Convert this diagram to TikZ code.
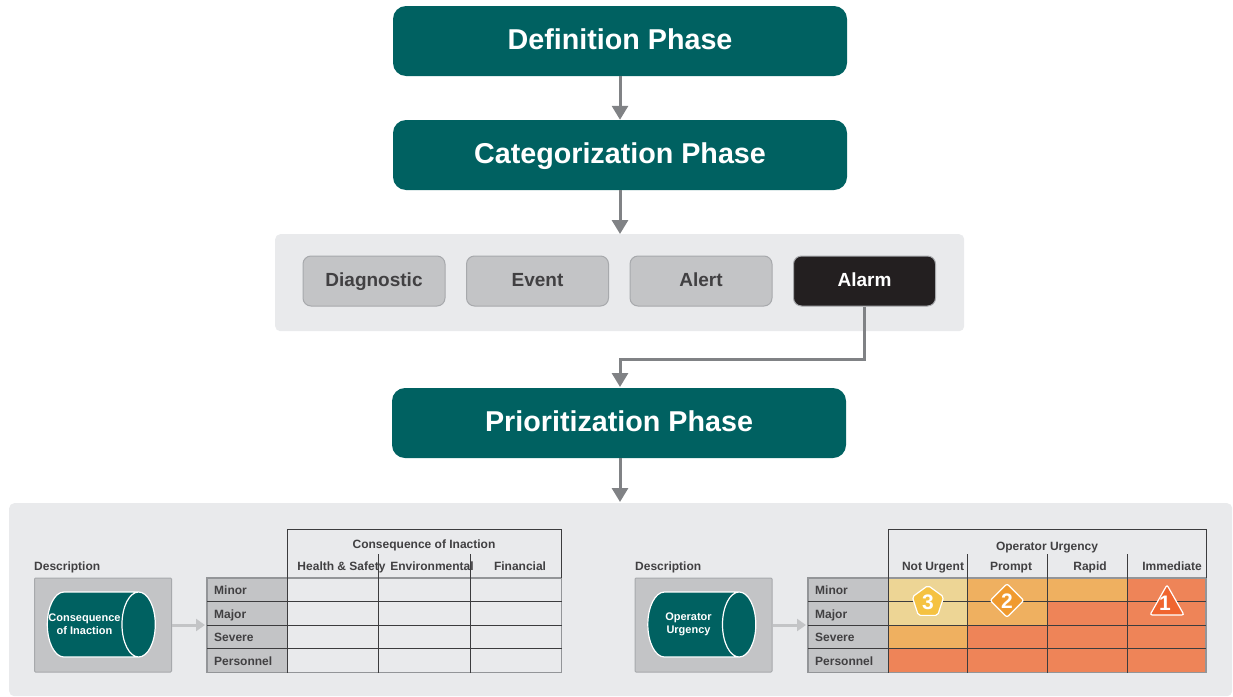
\documentclass[tikz,border=0pt]{standalone}
\usepackage{fontspec}
\setmainfont{Liberation Sans}
\usetikzlibrary{positioning, arrows.meta, shapes.geometric}
\definecolor{PhaseColor}{HTML}{006161}
\definecolor{ChipColor}{HTML}{C3C4C6}
\definecolor{ChipEdge}{HTML}{A7A9AC}
\definecolor{AlarmColor}{HTML}{231F20}
\definecolor{PanelColor}{HTML}{E9EAEC}
\definecolor{LabelColor}{HTML}{414042}
\definecolor{ArrowColor}{HTML}{808285}
\definecolor{RuleColor}{HTML}{3C3C3E}
\definecolor{EdgeColor}{HTML}{939598}
\definecolor{HighColor}{HTML}{EE8458}
\definecolor{MidColor}{HTML}{EFB060}
\definecolor{LowColor}{HTML}{EDD595}
\definecolor{ThreeColor}{HTML}{F5C242}
\definecolor{TwoColor}{HTML}{F09A2E}
\definecolor{OneColor}{HTML}{F0652F}
\tikzset{
  phase/.style={rectangle, rounded corners=13pt, fill=PhaseColor, text=white, minimum width=454pt, minimum height=70pt, text height=20pt, text depth=3.5pt, font=\fontsize{28.7}{32}\selectfont\bfseries},
  chip/.style={rectangle, rounded corners=8pt, fill=ChipColor, draw=ChipEdge, line width=1pt, text=LabelColor, minimum width=142pt, minimum height=50pt, text height=14pt, text depth=4pt, font=\fontsize{19}{22}\selectfont\bfseries},
  panel/.style={rectangle, rounded corners=5pt, fill=PanelColor, anchor=north west},
  flow/.style={-{Triangle[length=14pt,width=16pt]}, line width=3pt, ArrowColor},
  small flow/.style={-{Triangle[length=9pt,width=12pt]}, line width=3pt, ChipColor},
  head/.style={inner sep=0pt, text=LabelColor, text height=8.5pt, text depth=0.5pt, font=\fontsize{12}{14}\selectfont\bfseries},
  caption/.style={head, anchor=west},
  desc box/.style={rectangle, rounded corners=1pt, fill=ChipColor, draw=ChipEdge, line width=1pt, minimum width=137pt, minimum height=94pt},
  drum/.style={cylinder, shape aspect=5, draw=white, fill=PhaseColor, line width=1.2pt, minimum width=65pt, minimum height=108pt},
  drum text/.style={align=center, text=white, inner sep=0pt, font=\fontsize{11}{13}\selectfont\bfseries},
  grid rule/.style={line width=1pt, RuleColor},
  edge rule/.style={line width=1.6pt, EdgeColor},
  badge/.style={draw=white, line width=1.2pt, rounded corners=2pt, inner sep=0pt},
  badge text/.style={inner sep=0pt, text=white, font=\fontsize{21}{24}\selectfont\bfseries}
}
\begin{document}
\begin{tikzpicture}[x=1pt,y=-1pt]
    \useasboundingbox (0,0) rectangle (1233,696);

    % Category panel
    \node[panel, minimum width=689pt, minimum height=97pt] (catpanel) at (275,234) {};

    % Phases
    \node[phase] (definition) at (620,41) {Definition Phase};
    \node[phase] (categorization) at (620,155) {Categorization Phase};
    \node[phase] (prioritization) at (619,423) {Prioritization Phase};

    % Category chips
    \node[chip] (diagnostic) at (374,281) {Diagnostic};
    \node[chip] (event) at (537.5,281) {Event};
    \node[chip] (alert) at (701,281) {Alert};
    \node[chip, fill=AlarmColor, text=white] (alarm) at (864.5,281) {Alarm};

    % Bottom panel
    \node[panel, minimum width=1223pt, minimum height=193pt] (bottompanel) at (9,503) {};

    % Arrows
    \coordinate (catin) at (620,234);
    \coordinate (prioin) at (620,387);
    \coordinate (prioout) at (620,458);
    \coordinate (bottomin) at (620,502);
    \draw[flow] (definition.south -| catin) -- (categorization.north -| catin);
    \draw[flow] (categorization.south -| catin) -- (catin);
    \draw[flow] (alarm.south) |- (620,359) -- (prioin);
    \draw[flow] (prioout) -- (bottomin);

    % Left description
    \node[caption] (descleft) at (34,566) {Description};
    \node[desc box] (boxleft) at (103,625) {};
    \node[drum] (drumleft) at (89,624.5) {};
    \node[drum text] (drumlefttext) at (84.5,624) {Consequence\\of Inaction};
    \coordinate (tableleft) at (205,625);
    \draw[small flow] (boxleft.east) -- (tableleft);

    % Right description
    \node[caption] (descright) at (635,566) {Description};
    \node[desc box] (boxright) at (703.5,625) {};
    \node[drum] (drumright) at (689.5,624.5) {};
    \node[drum text] (drumrighttext) at (688.5,624) {Operator\\Urgency};
    \coordinate (tableright) at (806,625);
    \draw[small flow] (boxright.east) -- (tableright);

    % Row label columns
    \fill[ChipColor] (207,578) rectangle (287,672.5);
    \fill[ChipColor] (808,578) rectangle (888,672.5);

    % Urgency cells
    \fill[HighColor] (888,578) rectangle (1206,672.5);
    \fill[MidColor] (888,578) rectangle (1047,625);
    \fill[MidColor] (888,625) rectangle (967.5,648.5);
    \fill[MidColor] (1047,578) rectangle (1127,601.5);
    \fill[LowColor] (888,578) rectangle (967.5,625);

    % Row labels and rules
    \foreach \row/\y in {Minor/590,Major/614,Severe/637,Personnel/661} {
        \node[caption] (left\row) at (214,\y) {\row};
        \node[caption] (right\row) at (815,\y) {\row};
    }
    \draw[edge rule] (207,578) rectangle (561.5,672.5);
    \draw[edge rule] (808,578) rectangle (1206,672.5);
    \foreach \y in {601.5,625,648.5} {
        \draw[grid rule] (207,\y) -- (561.5,\y);
        \draw[grid rule] (808,\y) -- (1206,\y);
    }

    % Column rules
    \foreach \x in {378,470} {
        \draw[grid rule] (\x,554) -- (\x,672.5);
    }
    \foreach \x in {967.5,1047,1127} {
        \draw[grid rule] (\x,554) -- (\x,672.5);
    }
    \draw[grid rule] (287,672.5) -- (287,529) -- (561.5,529) -- (561.5,578);
    \draw[grid rule] (888,672.5) -- (888,529) -- (1206,529) -- (1206,578);

    % Column heads
    \node[head] (headleft) at (424,544) {Consequence of Inaction};
    \node[head] (health) at (341.5,566) {Health \& Safety};
    \node[head] (environmental) at (432,566) {Environmental};
    \node[head] (financial) at (520,566) {Financial};
    \node[head] (headright) at (1047,546) {Operator Urgency};
    \node[head] (noturgent) at (933,566) {Not Urgent};
    \node[head] (prompt) at (1011,566) {Prompt};
    \node[head] (rapid) at (1090,566) {Rapid};
    \node[head] (immediate) at (1172,566) {Immediate};

    % Priority badges
    \node[badge, regular polygon, regular polygon sides=5, minimum size=33pt, fill=ThreeColor] (three) at (928,602) {};
    \node[badge text] (threetext) at (928,602) {3};
    \node[badge, diamond, minimum width=34pt, minimum height=34pt, fill=TwoColor] (two) at (1007,600.5) {};
    \node[badge text] (twotext) at (1007,601) {2};
    \node[badge, isosceles triangle, isosceles triangle apex angle=60, isosceles triangle stretches, shape border rotate=90, minimum width=34pt, minimum height=30pt, fill=OneColor] (one) at (1167,605) {};
    \node[badge text] (onetext) at (1165,603) {1};
\end{tikzpicture}
\end{document}
